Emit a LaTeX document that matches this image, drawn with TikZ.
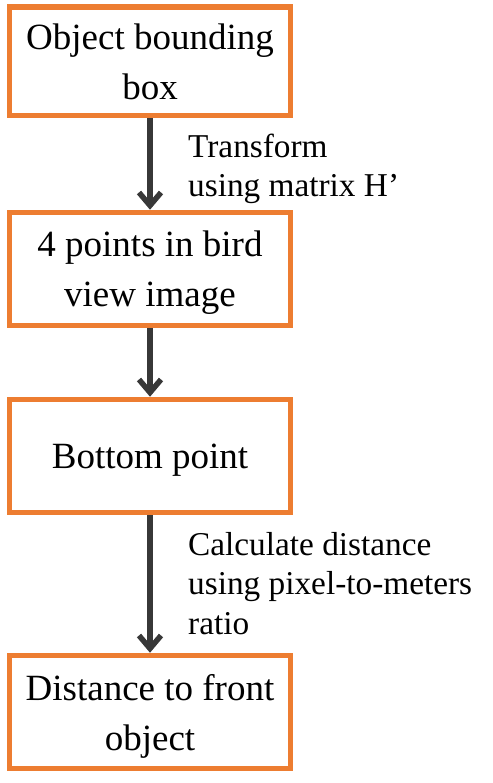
\documentclass[tikz,border=0pt]{standalone}
\usepackage{fontspec}
\setmainfont{Liberation Serif}
\usetikzlibrary{arrows.meta}
\definecolor{boxorange}{HTML}{ED7D31}
\definecolor{arrowgray}{HTML}{383838}
\begin{document}
\begin{tikzpicture}[x=1pt,y=-1pt,
  stepbox/.style={draw=boxorange, line width=5.5pt, rectangle, minimum width=281pt,
    minimum height=113pt, align=center, inner sep=0pt, text depth=0pt,
    font=\fontsize{37}{50}\selectfont},
  flow/.style={draw=arrowgray, line width=5.5pt,
    -{Straight Barb[length=13pt,width=22pt]}},
  steplabel/.style={anchor=base west, align=left, inner sep=0pt,
    font=\fontsize{33.3}{39.5}\selectfont}]
\useasboundingbox (0,0) rectangle (492,783);
\node[stepbox, minimum height=108.5pt] (b1) at (150,61.25) {Object bounding\\box};
\node[stepbox] (b2) at (150,269) {4 points in bird\\view image};
\node[stepbox] (b3) at (150,456) {Bottom point};
\node[stepbox] (b4) at (150,712) {Distance to front\\object};
\draw[flow] (b1.south) -- (b2.north);
\draw[flow] (b2.south) -- (b3.north);
\draw[flow] (b3.south) -- (b4.north);
\node[steplabel] (l1) at (188,197) {Transform\\using matrix H’};
\node[steplabel] (l2) at (188,634) {Calculate distance\\using pixel-to-meters\\ratio};
\end{tikzpicture}
\end{document}
